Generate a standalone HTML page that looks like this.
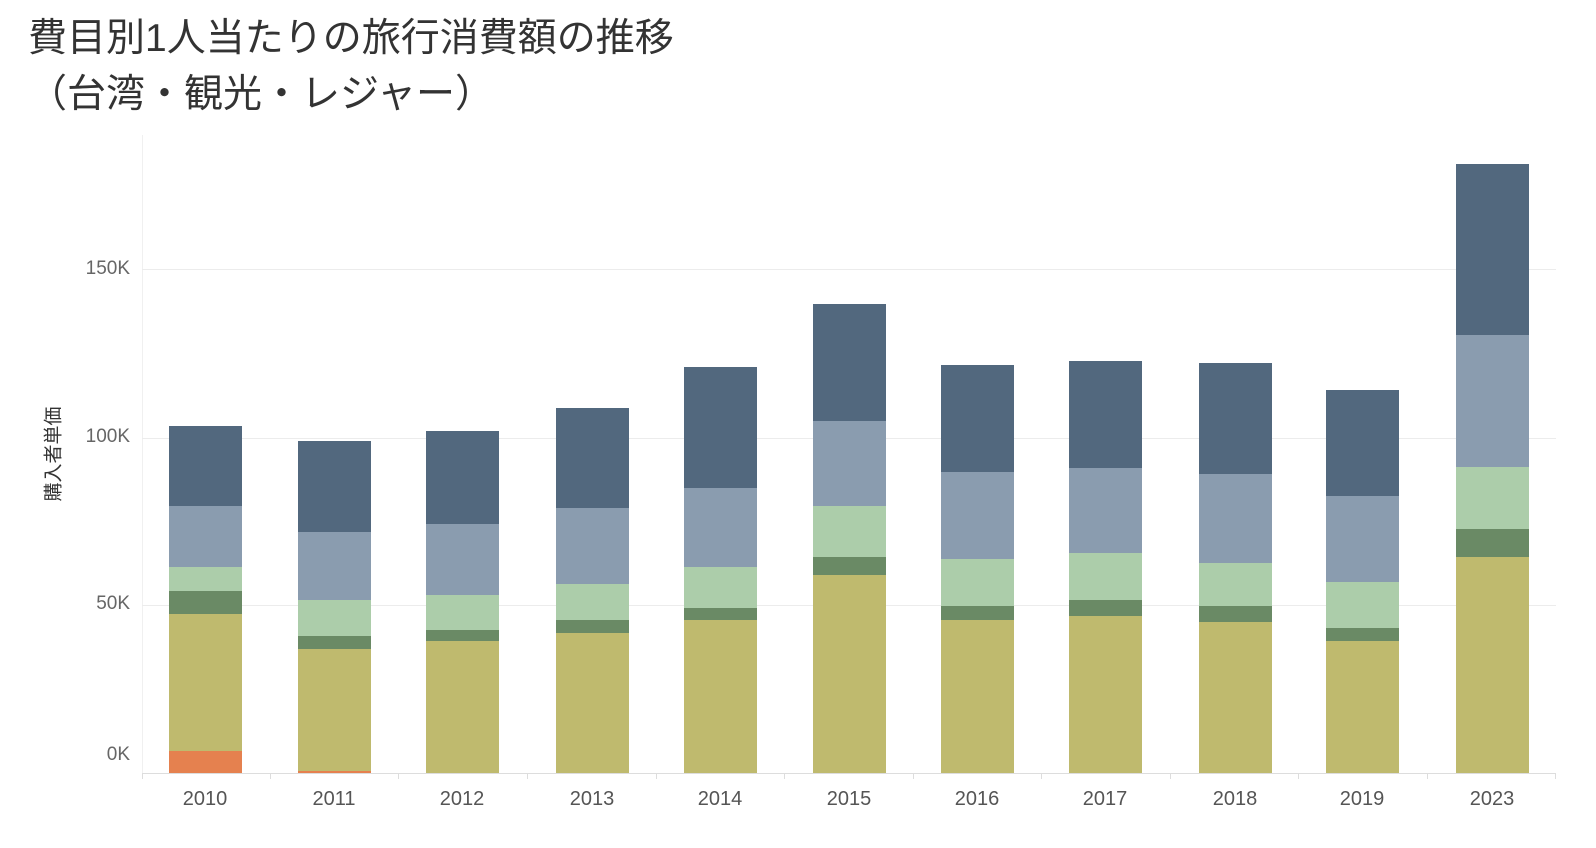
<!DOCTYPE html>
<html><head><meta charset="utf-8"><style>
body{margin:0;width:1596px;height:848px;background:#fff;position:relative;overflow:hidden;font-family:"Liberation Sans","Noto Sans CJK JP",sans-serif}
.t{position:absolute;left:28px;font-size:39px;color:#333;white-space:nowrap;line-height:1}
.g{position:absolute;left:142px;width:1414px;height:1px;background:#ececec}
.yl{position:absolute;right:1466px;font-size:19px;color:#666}
.xl{position:absolute;top:788px;width:100px;text-align:center;font-size:20px;color:#555}
.s{position:absolute;width:73px}
.tk{position:absolute;top:773px;width:1px;height:6px;background:#ddd}
.a{background:#e5814f}.b{background:#bfba6e}.c{background:#6a8a65}.d{background:#accdaa}.e{background:#8a9caf}.f{background:#52687e}
</style></head><body>
<div class="t" style="top:19px">費目別1人当たりの旅行消費額の推移</div>
<div class="t" style="top:75px">（台湾・観光・レジャー）</div>
<div style="position:absolute;left:142px;top:135px;width:1px;height:638px;background:#f0f0f0"></div>
<div class="g" style="top:269px"></div><div class="g" style="top:438px"></div><div class="g" style="top:605px"></div>
<div class="yl" style="top:258px">150K</div><div class="yl" style="top:426px">100K</div><div class="yl" style="top:593px">50K</div><div class="yl" style="top:744px">0K</div>
<div style="position:absolute;left:7px;top:443px;width:90px;text-align:center;transform:rotate(-90deg);font-size:19px;color:#333;white-space:nowrap">購入者単価</div>
<div style="position:absolute;left:142px;top:773px;width:1414px;height:1px;background:#ddd"></div>

<div class="s a" style="left:169px;top:751px;height:22px"></div>
<div class="s b" style="left:169px;top:614px;height:137px"></div>
<div class="s c" style="left:169px;top:591px;height:23px"></div>
<div class="s d" style="left:169px;top:567px;height:24px"></div>
<div class="s e" style="left:169px;top:506px;height:61px"></div>
<div class="s f" style="left:169px;top:426px;height:80px"></div>

<div class="s a" style="left:298px;top:771px;height:2px"></div>
<div class="s b" style="left:298px;top:649px;height:122px"></div>
<div class="s c" style="left:298px;top:636px;height:13px"></div>
<div class="s d" style="left:298px;top:600px;height:36px"></div>
<div class="s e" style="left:298px;top:532px;height:68px"></div>
<div class="s f" style="left:298px;top:441px;height:91px"></div>

<div class="s b" style="left:426px;top:641px;height:132px"></div>
<div class="s c" style="left:426px;top:630px;height:11px"></div>
<div class="s d" style="left:426px;top:595px;height:35px"></div>
<div class="s e" style="left:426px;top:524px;height:71px"></div>
<div class="s f" style="left:426px;top:431px;height:93px"></div>

<div class="s b" style="left:556px;top:633px;height:140px"></div>
<div class="s c" style="left:556px;top:620px;height:13px"></div>
<div class="s d" style="left:556px;top:584px;height:36px"></div>
<div class="s e" style="left:556px;top:508px;height:76px"></div>
<div class="s f" style="left:556px;top:408px;height:100px"></div>

<div class="s b" style="left:684px;top:620px;height:153px"></div>
<div class="s c" style="left:684px;top:608px;height:12px"></div>
<div class="s d" style="left:684px;top:567px;height:41px"></div>
<div class="s e" style="left:684px;top:488px;height:79px"></div>
<div class="s f" style="left:684px;top:367px;height:121px"></div>

<div class="s b" style="left:813px;top:575px;height:198px"></div>
<div class="s c" style="left:813px;top:557px;height:18px"></div>
<div class="s d" style="left:813px;top:506px;height:51px"></div>
<div class="s e" style="left:813px;top:421px;height:85px"></div>
<div class="s f" style="left:813px;top:304px;height:117px"></div>

<div class="s b" style="left:941px;top:620px;height:153px"></div>
<div class="s c" style="left:941px;top:606px;height:14px"></div>
<div class="s d" style="left:941px;top:559px;height:47px"></div>
<div class="s e" style="left:941px;top:472px;height:87px"></div>
<div class="s f" style="left:941px;top:365px;height:107px"></div>

<div class="s b" style="left:1069px;top:616px;height:157px"></div>
<div class="s c" style="left:1069px;top:600px;height:16px"></div>
<div class="s d" style="left:1069px;top:553px;height:47px"></div>
<div class="s e" style="left:1069px;top:468px;height:85px"></div>
<div class="s f" style="left:1069px;top:361px;height:107px"></div>

<div class="s b" style="left:1199px;top:622px;height:151px"></div>
<div class="s c" style="left:1199px;top:606px;height:16px"></div>
<div class="s d" style="left:1199px;top:563px;height:43px"></div>
<div class="s e" style="left:1199px;top:474px;height:89px"></div>
<div class="s f" style="left:1199px;top:363px;height:111px"></div>

<div class="s b" style="left:1326px;top:641px;height:132px"></div>
<div class="s c" style="left:1326px;top:628px;height:13px"></div>
<div class="s d" style="left:1326px;top:582px;height:46px"></div>
<div class="s e" style="left:1326px;top:496px;height:86px"></div>
<div class="s f" style="left:1326px;top:390px;height:106px"></div>

<div class="s b" style="left:1456px;top:557px;height:216px"></div>
<div class="s c" style="left:1456px;top:529px;height:28px"></div>
<div class="s d" style="left:1456px;top:467px;height:62px"></div>
<div class="s e" style="left:1456px;top:335px;height:132px"></div>
<div class="s f" style="left:1456px;top:164px;height:171px"></div>

<div class="xl" style="left:155px">2010</div>
<div class="xl" style="left:284px">2011</div>
<div class="xl" style="left:412px">2012</div>
<div class="xl" style="left:542px">2013</div>
<div class="xl" style="left:670px">2014</div>
<div class="xl" style="left:799px">2015</div>
<div class="xl" style="left:927px">2016</div>
<div class="xl" style="left:1055px">2017</div>
<div class="xl" style="left:1185px">2018</div>
<div class="xl" style="left:1312px">2019</div>
<div class="xl" style="left:1442px">2023</div>

<div class="tk" style="left:142px"></div><div class="tk" style="left:270px"></div><div class="tk" style="left:398px"></div><div class="tk" style="left:527px"></div><div class="tk" style="left:656px"></div><div class="tk" style="left:784px"></div><div class="tk" style="left:913px"></div><div class="tk" style="left:1041px"></div><div class="tk" style="left:1170px"></div><div class="tk" style="left:1298px"></div><div class="tk" style="left:1427px"></div><div class="tk" style="left:1555px"></div>
</body></html>
